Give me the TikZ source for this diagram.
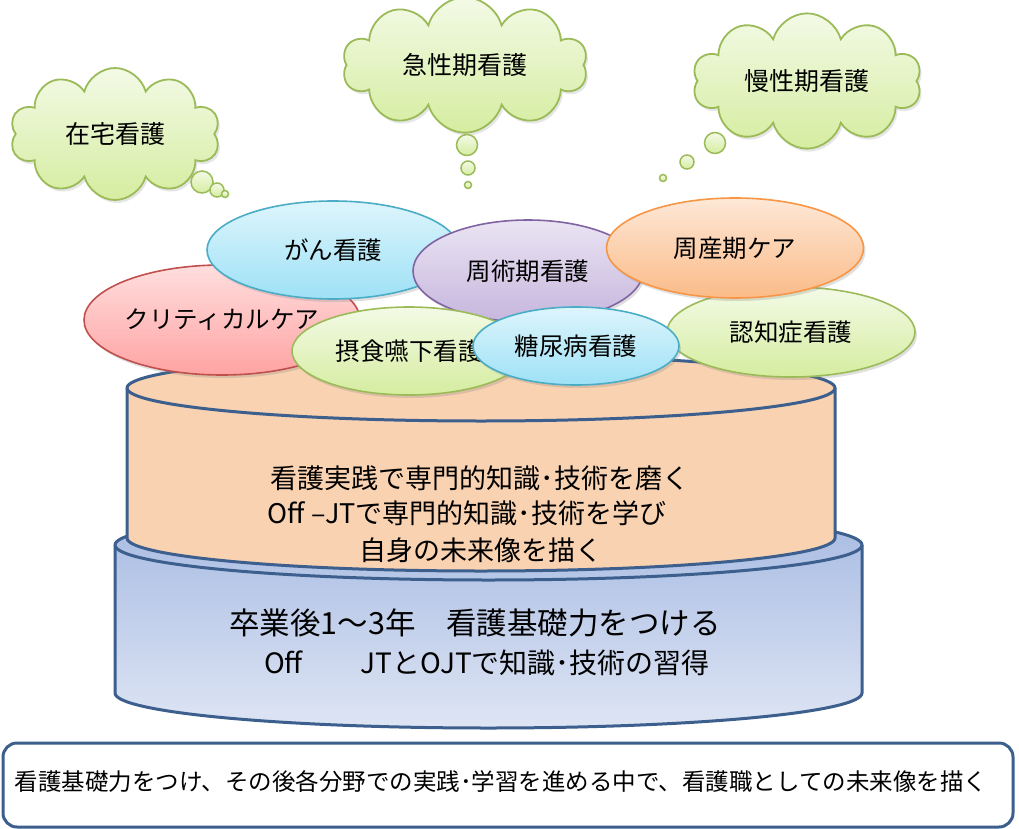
\documentclass[tikz,border=0pt]{standalone}
\usepackage{fontspec}
\setmainfont{Noto Sans CJK JP}
\usetikzlibrary{shapes.geometric,shapes.symbols,shadows}
\definecolor{edgeblue}{HTML}{3C5F8D}
\definecolor{cylpeach}{HTML}{F9D2B1}
\definecolor{cylblueA}{HTML}{A6BAE2}
\definecolor{cylblueB}{HTML}{DEE5F4}
\definecolor{redline}{HTML}{C0504D}
\definecolor{redtop}{HTML}{FFDEDE}
\definecolor{redbot}{HTML}{FFA3A3}
\definecolor{cyanline}{HTML}{4BACC6}
\definecolor{cyantop}{HTML}{DDF5FC}
\definecolor{cyanbot}{HTML}{9EE1F6}
\definecolor{purpleline}{HTML}{8064A2}
\definecolor{purpletop}{HTML}{EAE4F3}
\definecolor{purplebot}{HTML}{C6B6DD}
\definecolor{orangeline}{HTML}{F79646}
\definecolor{orangetop}{HTML}{FDE8D7}
\definecolor{orangebot}{HTML}{FBBB88}
\definecolor{greenline}{HTML}{9BBB59}
\definecolor{greentop}{HTML}{F3FAE6}
\definecolor{greenbot}{HTML}{D5EDA0}

\begin{document}
\begin{tikzpicture}[x=1pt, y=1pt,
  field/.style={ellipse, line width=1.6pt, inner sep=0pt,
    font=\fontsize{24.5}{28}\selectfont,
    drop shadow={shadow xshift=2pt, shadow yshift=-3pt, opacity=0.25}},
  redfield/.style={field, draw=redline, top color=redtop, bottom color=redbot},
  cyanfield/.style={field, draw=cyanline, top color=cyantop, bottom color=cyanbot},
  purplefield/.style={field, draw=purpleline, top color=purpletop, bottom color=purplebot},
  orangefield/.style={field, draw=orangeline, top color=orangetop, bottom color=orangebot},
  greenfield/.style={field, draw=greenline, top color=greentop, bottom color=greenbot},
  thought/.style={cloud, cloud puffs=10, aspect=1.8, draw=greenline, line width=1.8pt,
    top color=greentop, bottom color=greenbot, inner sep=0pt,
    font=\fontsize{25}{29}\selectfont,
    drop shadow={shadow xshift=2pt, shadow yshift=-3pt, opacity=0.2}},
  puff/.style={circle, draw=greenline, line width=1.5pt, top color=greentop,
    bottom color=greenbot, inner sep=0pt},
  cylline/.style={draw=edgeblue, line width=3pt},
  layertext/.style={inner sep=0pt, font=\fontsize{27}{31}\selectfont}
]
\useasboundingbox (0,0) rectangle (1019,-829);

% Base cylinder
\path[cylline, top color=cylblueA, bottom color=cylblueB] (115,-545) -- (115,-693)
  arc[start angle=180, end angle=360, x radius=373.5, y radius=35] -- (862,-545)
  arc[start angle=0, end angle=180, x radius=373.5, y radius=35] -- cycle;
\draw[cylline] (115,-545) arc[start angle=180, end angle=360, x radius=373.5, y radius=35];

% Upper cylinder
\path[cylline, fill=cylpeach] (127,-388) -- (127,-538)
  arc[start angle=180, end angle=360, x radius=354, y radius=33] -- (835,-388)
  arc[start angle=0, end angle=180, x radius=354, y radius=33] -- cycle;
\draw[cylline] (127,-388) arc[start angle=180, end angle=360, x radius=354, y radius=33];

% Layer texts
\node[layertext] (skill1) at (480,-478) {看護実践で専門的知識･技術を磨く};
\node[layertext] (skill2) at (467,-513) {Off –JTで専門的知識･技術を学び};
\node[layertext] (skill3) at (481,-550) {自身の未来像を描く};
\node[inner sep=0pt, font=\fontsize{30.5}{34}\selectfont] (base1) at (475,-623) {卒業後1～3年　看護基礎力をつける};
\node[inner sep=0pt, font=\fontsize{28}{32}\selectfont] (base2) at (487,-663) {Off\hspace{58pt}JTとOJTで知識･技術の習得};

% Fields
\node[redfield, minimum width=276pt, minimum height=110pt] (critical) at (222,-320) {クリティカルケア};
\node[cyanfield, minimum width=252pt, minimum height=98pt] (cancer) at (333,-250) {がん看護};
\node[purplefield, minimum width=230pt, minimum height=102pt] (periop) at (528,-271) {周術期看護};
\node[greenfield, minimum width=234pt, minimum height=88pt] (dysphagia) at (409,-351) {摂食嚥下看護};
\node[greenfield, minimum width=248pt, minimum height=90pt] (dementia) at (791,-332) {認知症看護};
\node[orangefield, minimum width=257pt, minimum height=100pt] (perinatal) at (735,-248) {周産期ケア};
\node[cyanfield, minimum width=206pt, minimum height=78pt] (diabetes) at (576,-346) {糖尿病看護};

% Thought clouds
\node[thought, minimum width=210pt, minimum height=132pt] (homecare) at (115,-134) {在宅看護};
\node[puff, minimum size=22pt] (homeA) at (202,-182) {};
\node[puff, minimum size=14pt] (homeB) at (217,-190) {};
\node[puff, minimum size=7pt] (homeC) at (225,-194) {};

\node[thought, minimum width=245pt, minimum height=124pt] (acute) at (465,-65) {急性期看護};
\node[puff, minimum size=21pt] (acuteA) at (467,-145) {};
\node[puff, minimum size=14pt] (acuteB) at (468,-168) {};
\node[puff, minimum size=7pt] (acuteC) at (468,-185) {};

\node[thought, minimum width=229pt, minimum height=113pt] (chronic) at (807,-81) {慢性期看護};
\node[puff, minimum size=21pt] (chronicA) at (715,-143) {};
\node[puff, minimum size=14pt] (chronicB) at (687,-162) {};
\node[puff, minimum size=7pt] (chronicC) at (663,-178) {};

% Summary
\node[draw=edgeblue, line width=3pt, rounded corners=14pt, fill=white,
  minimum width=1010pt, minimum height=84pt,
  label={[xshift=-7pt, yshift=3pt, font=\fontsize{23.5}{27}\selectfont]center:看護基礎力をつけ、その後各分野での実践･学習を進める中で、看護職としての未来像を描く}]
  (summary) at (508,-785) {};
\end{tikzpicture}
\end{document}
